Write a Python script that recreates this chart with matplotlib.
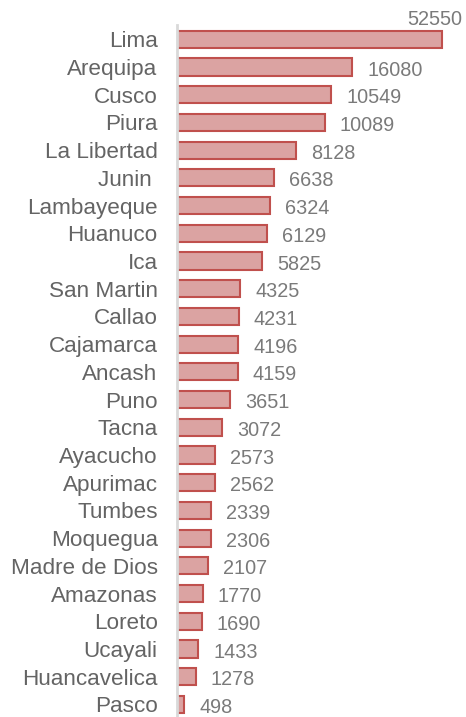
import matplotlib
matplotlib.use("Agg")
import matplotlib.pyplot as plt

categories = ["Lima", "Arequipa", "Cusco", "Piura", "La Libertad", "Junin ",
              "Lambayeque", "Huanuco", "Ica", "San Martin", "Callao", "Cajamarca",
              "Ancash", "Puno", "Tacna", "Ayacucho", "Apurimac", "Tumbes",
              "Moquegua", "Madre de Dios", "Amazonas", "Loreto", "Ucayali",
              "Huancavelica", "Pasco"]
values = [52550, 16080, 10549, 10089, 8128, 6638, 6324, 6129, 5825, 4325, 4231,
          4196, 4159, 3651, 3072, 2573, 2562, 2339, 2306, 2107, 1770, 1690, 1433,
          1278, 498]
# drawn bar lengths (the two largest bars are shortened)
bar_lengths = [18100, 12000, 10549, 10089, 8128, 6638, 6324, 6129, 5825, 4325, 4231,
               4196, 4159, 3651, 3072, 2573, 2562, 2339, 2306, 2107, 1770, 1690, 1433,
               1278, 498]

plt.rcParams['font.family'] = ['Liberation Sans', 'DejaVu Sans']

fig = plt.figure(figsize=(4.66, 7.17), dpi=100)
ax = fig.add_axes([0.380, 0.002, 0.596, 0.9625])

y = list(range(len(categories)))
ax.barh(y, bar_lengths, height=0.62, color='#DBA3A2', edgecolor='#C0504D',
        linewidth=1.5, zorder=2)

ax.set_ylim(24.4, -0.5)
ax.set_xlim(0, 19000)
ax.set_yticks(y)
ax.set_yticklabels(categories, fontsize=16.2, color='#646464')
ax.tick_params(axis='y', length=0, pad=14)
for lbl in ax.get_yticklabels():
    lbl.set_va('center_baseline')
ax.set_xticks([])
for s in ['top', 'right', 'bottom']:
    ax.spines[s].set_visible(False)
ax.spines['left'].set_color('#D9D9D9')
ax.spines['left'].set_linewidth(2)

for i, (v, b) in enumerate(zip(values, bar_lengths)):
    if i == 0:
        ax.annotate(str(v), (b, i), xytext=(21, 22), textcoords='offset pixels',
                    ha='right', va='center_baseline', fontsize=14.3, color='#7a7a7a')
    else:
        ax.annotate(str(v), (b, i), xytext=(15, -1), textcoords='offset pixels',
                    ha='left', va='center_baseline', fontsize=14.3, color='#7a7a7a')

fig.savefig("out.png", dpi=100)
